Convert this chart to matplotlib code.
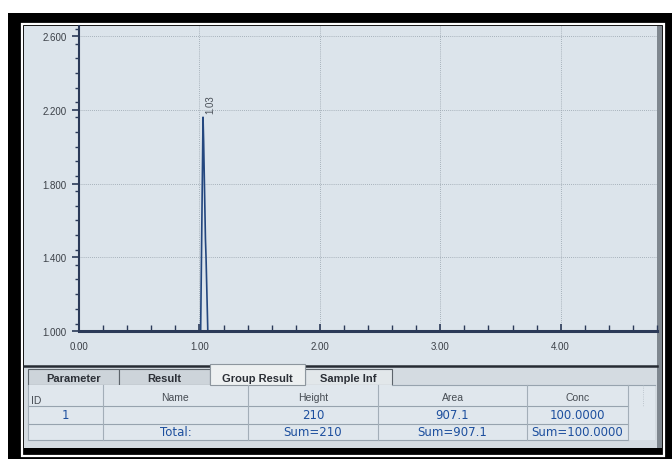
import numpy as np
import matplotlib.pyplot as plt
from matplotlib.patches import Rectangle
from matplotlib.ticker import FixedLocator, MultipleLocator, FormatStrFormatter

# chromatogram trace: retention time (min) vs detector signal
rt = [0.00, 1.01, 1.03, 1.035, 1.05, 1.055, 1.07, 4.82]
signal = [0.99, 0.99, 2.16, 2.03, 1.50, 1.40, 0.99, 0.99]
peak_rt = 1.03
peak_top = 2.16

y_ticks = [1.0, 1.4, 1.8, 2.2, 2.6]
x_ticks = [0, 1, 2, 3, 4]

# result table under the chart
tabs = ["Parameter", "Result", "Group Result", "Sample Inf"]
active_tab = "Group Result"
columns = ["ID", "Name", "Height", "Area", "Conc"]
row_1 = ["1", "", "210", "907.1", "100.0000"]
row_total = ["", "Total:", "Sum=210", "Sum=907.1", "Sum=100.0000"]

SCREEN = "#dce4eb"
PANEL = "#d4dbe1"
NAVY = "#2b3a58"
TXT = "#3b4047"
BLUE = "#1d4f9e"

plt.rcParams['font.family'] = ['Liberation Sans', 'DejaVu Sans']

fig = plt.figure(figsize=(6.72, 4.6), dpi=100)
fig.patch.set_facecolor('white')

# background layer in pixel units (y grows downwards)
bg = fig.add_axes([0, 0, 1, 1])
bg.set_xlim(0, 672)
bg.set_ylim(460, 0)
bg.axis('off')


def box(x0, y0, x1, y1, fc, ec='none', lw=0.0, z=1):
    bg.add_patch(Rectangle((x0, y0), x1 - x0, y1 - y0, facecolor=fc,
                           edgecolor=ec, linewidth=lw, zorder=z))


# black frame with thin white inner line
box(8, 14, 672, 460, 'black')
box(21.5, 24.5, 663.5, 456.5, 'none', ec='white', lw=1.6, z=2)
box(24, 27, 662, 449, SCREEN, z=3)
box(657, 27, 662, 449, '#7f878f', z=3)

# lower panel with tabs and table
box(24, 367, 657, 449, PANEL, z=3)
bg.plot([24, 657], [367, 367], color='#262b33', lw=1.8, zorder=4)

tab_edges = [28, 119, 210, 305, 392]
for i, name in enumerate(tabs):
    x0, x1 = tab_edges[i], tab_edges[i + 1]
    if name == active_tab:
        box(x0, 365, x1, 386, '#edf0f1', ec='#8d969e', lw=0.8, z=5)
    else:
        fc = '#e2e7ea' if i == 3 else '#cdd4da'
        box(x0, 370, x1, 386, fc, ec='#5d646b', lw=0.8, z=4)
    bg.text((x0 + x1) / 2, 379, name, ha='center', va='center',
            fontsize=8, fontweight='bold', color='#2b2f36', zorder=6)

col_edges = [28, 103, 248, 378, 527, 628]
row_edges = [386, 407, 425, 441]
box(28, 386, 655, 441, '#e0e7ed', z=4)
for y in row_edges[1:]:
    bg.plot([28, 628], [y, y], color='#97a3ae', lw=0.8, zorder=5)
bg.plot([392, 655], [386, 386], color='#97a3ae', lw=0.8, zorder=5)
for x in col_edges:
    bg.plot([x, x], [386, 441], color='#a3aeb8', lw=0.8, zorder=5)
for x in [643]:
    bg.plot([x, x], [386, 407], color='#b3bcc4', lw=0.6, ls=':', zorder=5)

for i, label in enumerate(columns):
    cx = (col_edges[i] + col_edges[i + 1]) / 2
    if i == 0:
        bg.text(col_edges[0] + 3, 401, label, ha='left', va='center',
                fontsize=7.5, color='#464c53', zorder=6)
    else:
        bg.text(cx, 398, label, ha='center', va='center',
                fontsize=7.5, color='#464c53', zorder=6)
    bg.text(cx, 416, row_1[i], ha='center', va='center', family='DejaVu Sans',
            fontsize=8.5, color=BLUE, zorder=6)
    bg.text(cx, 433, row_total[i], ha='center', va='center', family='DejaVu Sans',
            fontsize=8.5, color=BLUE, zorder=6)

# chromatogram
ax = fig.add_axes([79 / 672, 1 - 332 / 460, (657 - 79) / 672, (332 - 27) / 460])
ax.set_zorder(2)
ax.set_facecolor('none')
ax.plot(rt, signal, color='#24477f', lw=1.2, zorder=2)
ax.annotate(f"{peak_rt:.2f}", xy=(peak_rt, peak_top), xytext=(5, 3),
            textcoords='offset points', rotation=90, ha='center', va='bottom',
            fontsize=7, color='#4a5058')

ax.set_xlim(0, 4.8)
ax.set_ylim(1.0, 2.655)
ax.yaxis.set_major_locator(FixedLocator(y_ticks))
ax.yaxis.set_minor_locator(MultipleLocator(0.08))
ax.yaxis.set_major_formatter(FormatStrFormatter('%.3f'))
ax.xaxis.set_major_locator(FixedLocator(x_ticks))
ax.xaxis.set_minor_locator(MultipleLocator(0.2))
ax.xaxis.set_major_formatter(FormatStrFormatter('%.2f'))

ax.grid(True, which='major', color='#96a1ab', lw=0.6, ls=(0, (1, 1.5)))
ax.set_axisbelow(True)
for s in ['top', 'right']:
    ax.spines[s].set_visible(False)
ax.spines['left'].set_color(NAVY)
ax.spines['left'].set_linewidth(1.5)
ax.spines['bottom'].set_color(NAVY)
ax.spines['bottom'].set_linewidth(2.2)

ax.tick_params(axis='x', which='major', direction='in', length=5, width=1.2,
               color=NAVY, labelcolor=TXT, labelsize=7, pad=7)
ax.tick_params(axis='x', which='minor', direction='in', length=4, width=1.0,
               color=NAVY)
ax.tick_params(axis='y', which='major', direction='out', length=5, width=1.2,
               color=NAVY, labelcolor=TXT, labelsize=7, pad=4)
ax.tick_params(axis='y', which='minor', direction='out', length=3, width=1.0,
               color=NAVY)

fig.savefig('out.png', dpi=100)
